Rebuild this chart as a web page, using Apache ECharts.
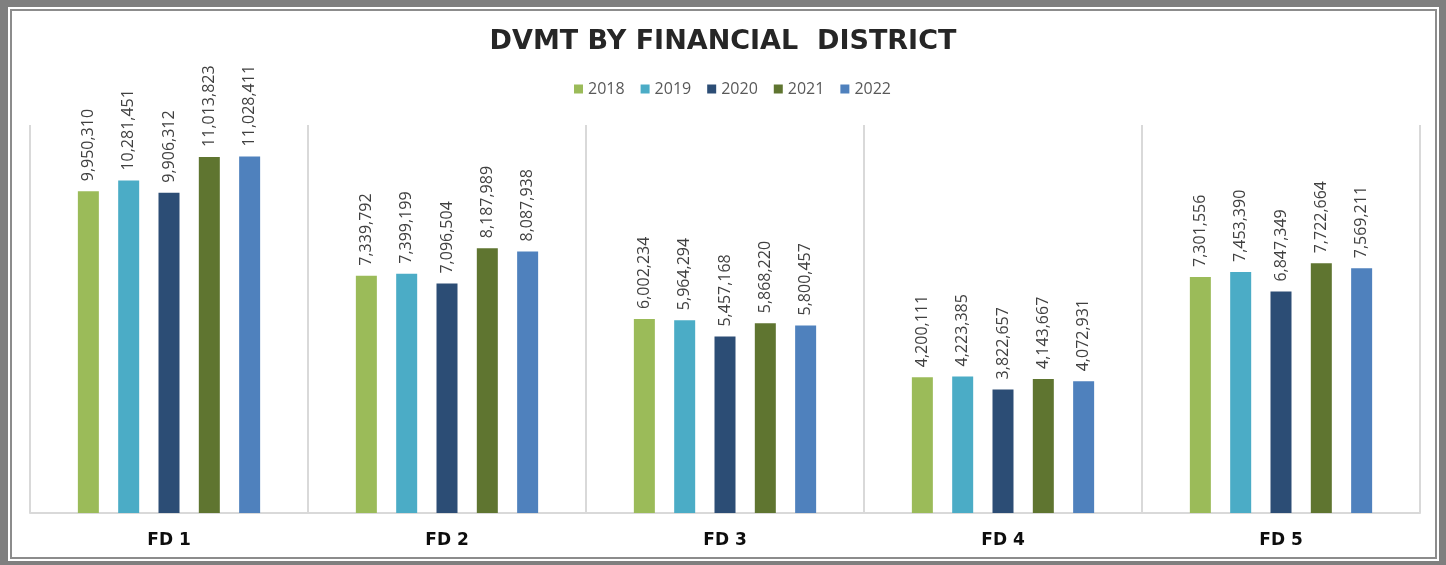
<!DOCTYPE html>
<html>
<head>
<meta charset="utf-8">
<script src="https://cdn.jsdelivr.net/npm/echarts@6/dist/echarts.min.js"></script>
<style>
  html, body { margin: 0; padding: 0; background: #ffffff; }
  #chart { width: 1446px; height: 565px; }
</style>
</head>
<body>
<div id="chart"></div>
<script>
// Financial districts along the x axis
const districts = ['FD 1', 'FD 2', 'FD 3', 'FD 4', 'FD 5'];
const years = ['2018', '2019', '2020', '2021', '2022'];

// Daily vehicle miles traveled per district, one array per year
const dvmt2018 = [9950310, 7339792, 6002234, 4200111, 7301556];
const dvmt2019 = [10281451, 7399199, 5964294, 4223385, 7453390];
const dvmt2020 = [9906312, 7096504, 5457168, 3822657, 6847349];
const dvmt2021 = [11013823, 8187989, 5868220, 4143667, 7722664];
const dvmt2022 = [11028411, 8087938, 5800457, 4072931, 7569211];

const yearColors = ['#9bbb59', '#4bacc6', '#2c4d75', '#5f7530', '#4f81bd'];
const seriesData = [dvmt2018, dvmt2019, dvmt2020, dvmt2021, dvmt2022];

const chart = echarts.init(document.getElementById('chart'), null, { renderer: 'canvas' });

const series = years.map((yr, i) => ({
  name: yr,
  type: 'bar',
  data: seriesData[i],
  barWidth: 21,
  barGap: '92%',
  itemStyle: { color: yearColors[i] },
  label: {
    show: true,
    position: 'top',
    rotate: 90,
    align: 'left',
    verticalAlign: 'middle',
    distance: 10,
    fontFamily: 'Open Sans',
    fontSize: 16,
    color: '#404040',
    formatter: p => p.value.toLocaleString('en-US')
  }
}));

chart.setOption({
  animation: false,
  backgroundColor: '#ffffff',
  graphic: [
    // outer frame
    { type: 'rect', z: -10, silent: true, shape: { x: 0, y: 0, width: 1446, height: 565 }, style: { fill: '#7f7f7f' } },
    { type: 'rect', z: -9, silent: true, shape: { x: 8, y: 7, width: 1431, height: 554 }, style: { fill: '#ffffff' } },
    { type: 'rect', z: -8, silent: true, shape: { x: 11, y: 10, width: 1425, height: 548 }, style: { fill: '#ffffff', stroke: '#8c8c8c', lineWidth: 2 } }
  ],
  title: {
    text: 'DVMT BY FINANCIAL  DISTRICT',
    left: 'center',
    top: 23,
    textStyle: {
      fontFamily: 'DejaVu Sans',
      fontWeight: 'bold',
      fontSize: 27,
      color: '#262626'
    }
  },
  legend: {
    data: years,
    left: 569,
    top: 76,
    icon: 'rect',
    itemWidth: 9,
    itemHeight: 9,
    itemGap: 16,
    textStyle: { fontFamily: 'Open Sans', fontSize: 16, color: '#595959' }
  },
  grid: { left: 30, right: 26, top: 125, bottom: 52, containLabel: false },
  xAxis: {
    type: 'category',
    data: districts,
    axisLine: { show: true, lineStyle: { color: '#d9d9d9', width: 2 } },
    axisTick: { show: false },
    splitLine: { show: true, lineStyle: { color: '#d9d9d9', width: 2 } },
    axisLabel: {
      margin: 19,
      fontFamily: 'DejaVu Sans',
      fontWeight: 'bold',
      fontSize: 17,
      color: '#0d0d0d'
    }
  },
  yAxis: {
    type: 'value',
    min: 0,
    max: 12000000,
    interval: 2000000,
    show: false,
    splitLine: { show: false }
  },
  series: series
});
</script>
</body>
</html>
